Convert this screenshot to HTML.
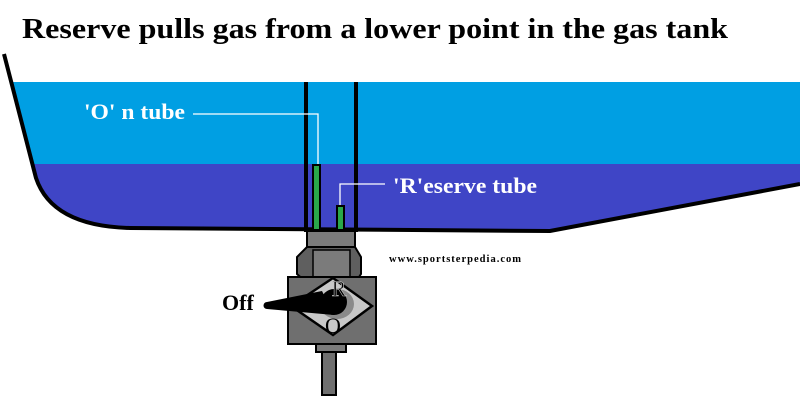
<!DOCTYPE html>
<html><head><style>html,body{margin:0;padding:0;background:#fff;width:800px;height:400px;overflow:hidden}</style></head>
<body>
<svg width="800" height="400" viewBox="0 0 800 400" xmlns="http://www.w3.org/2000/svg">
<defs>
<clipPath id="tank"><path d="M4,54 L36,178 Q52,226 130,228 L550,231 L800,184 L800,0 L0,0 Z"/></clipPath>
</defs>
<g clip-path="url(#tank)">
<rect x="0" y="82" width="800" height="82" fill="#009fe3"/>
<rect x="0" y="164" width="800" height="80" fill="#3f45c6"/>
</g>
<path d="M4,54 L36,178 Q52,226 130,228 L550,231 L800,184" fill="none" stroke="#000" stroke-width="4"/>
<line x1="306" y1="82" x2="306" y2="232" stroke="#000" stroke-width="4"/>
<line x1="356" y1="82" x2="356" y2="232" stroke="#000" stroke-width="4"/>
<rect x="313" y="165" width="7" height="65" fill="#2aa84a" stroke="#000" stroke-width="2"/>
<rect x="337" y="206" width="7" height="24" fill="#2aa84a" stroke="#000" stroke-width="2"/>
<polyline points="193,114 318,114 318,164" fill="none" stroke="#fff" stroke-width="1.3"/>
<polyline points="385,184 340,184 340,205" fill="none" stroke="#fff" stroke-width="1.3"/>
<text x="84" y="119" font-family="Liberation Serif, serif" font-weight="bold" font-size="22" fill="#fff" textLength="101" lengthAdjust="spacingAndGlyphs">'O' n tube</text>
<text x="393" y="193" font-family="Liberation Serif, serif" font-weight="bold" font-size="22" fill="#fff" textLength="144" lengthAdjust="spacingAndGlyphs">'R'eserve tube</text>
<text x="22" y="38" font-family="Liberation Serif, serif" font-weight="bold" font-size="29" fill="#000" textLength="706" lengthAdjust="spacingAndGlyphs">Reserve pulls gas from a lower point in the gas tank</text>
<text x="389" y="262" font-family="Liberation Serif, serif" font-weight="bold" font-size="10.5" fill="#000" textLength="132">www.sportsterpedia.com</text>
<!-- valve -->
<rect x="307" y="231" width="48" height="16" fill="#7b7b7b" stroke="#000" stroke-width="2"/>
<polygon points="307,247 355,247 361,257 361,274 355,283 307,283 297,274 297,257" fill="#5f5f5f" stroke="#000" stroke-width="2"/>
<rect x="313" y="250" width="37" height="28" fill="#7b7b7b" stroke="#000" stroke-width="1.5"/>
<rect x="322" y="350" width="14" height="45" fill="#6f6f6f" stroke="#000" stroke-width="2"/>
<rect x="316" y="335" width="30" height="17" fill="#7b7b7b" stroke="#000" stroke-width="2"/>
<rect x="288" y="277" width="88" height="67" fill="#6f6f6f" stroke="#000" stroke-width="2"/>
<polygon points="291,306 333,278 372,306 333,335" fill="#c8c8c8" stroke="#000" stroke-width="2.5"/>
<ellipse cx="337" cy="304" rx="17" ry="15" fill="#8a8a8a"/>
<circle cx="334" cy="302" r="13" fill="#000"/>
<polygon points="267,302 322,291 334,315 267,309" fill="#000"/>
<circle cx="267" cy="305.5" r="3.5" fill="#000"/>
<text x="339" y="296" font-family="Liberation Serif, serif" font-size="22" fill="#000" text-anchor="middle" stroke="#c8c8c8" stroke-width="0.6">R</text>
<text x="333" y="333" font-family="Liberation Serif, serif" font-size="22" fill="#000" text-anchor="middle">O</text>
<text x="222" y="310" font-family="Liberation Serif, serif" font-weight="bold" font-size="22" fill="#000">Off</text>
</svg>
</body></html>
